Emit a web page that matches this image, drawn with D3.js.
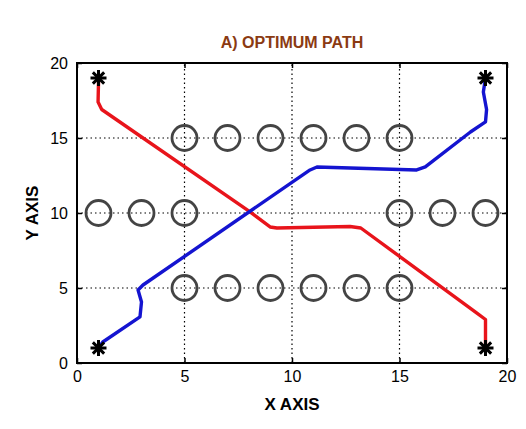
<!DOCTYPE html>
<html><head><meta charset="utf-8">
<script src="https://cdn.jsdelivr.net/npm/d3@7"></script>
<style>body{margin:0;background:#fff}</style></head>
<body><div id="chart"></div>
<script>
// Data
const xTicks = [0, 5, 10, 15, 20];
const yTicks = [0, 5, 10, 15, 20];
const obstacles = [
  [5,15],[7,15],[9,15],[11,15],[13,15],[15,15],
  [1,10],[3,10],[5,10],[15,10],[17,10],[19,10],
  [5,5],[7,5],[9,5],[11,5],[13,5],[15,5]
];
const stars = [[1,19],[19,19],[1,1],[19,1]];
const redPath = [[1,19],[1,18.7],[0.98,17.4],[1.15,16.9],[8.05,10.07],[8.98,9.07],[9.3,9.0],
  [12.7,9.1],[13.2,9.0],[18.6,3.33],[19,2.9],[19,1.6],[19,1]];
const bluePath = [[1,1],[1.2,1.4],[2.93,3.07],[3.0,4.07],[2.84,4.87],[3.07,5.2],[10.84,12.87],
  [11.16,13.07],[15.8,12.87],[16.2,13.07],[18.3,15.4],[19,16.07],[19.05,16.9],[18.9,18.07],[19,19]];

const W = 526, H = 429;
const m = {left: 77, right: 19, top: 63, bottom: 66};
const svg = d3.select("#chart").append("svg").attr("width", W).attr("height", H)
  .style("font-family", "Arial, 'Liberation Sans', sans-serif");
const x = d3.scaleLinear().domain([0, 20]).range([m.left, W - m.right]);
const y = d3.scaleLinear().domain([0, 20]).range([H - m.bottom, m.top]);

// grid
const grid = svg.append("g").attr("stroke", "#000").attr("stroke-width", 1.2).attr("stroke-dasharray", "1.5,3");
grid.selectAll("line.gx").data(xTicks.slice(1, -1)).join("line")
  .attr("x1", d => x(d)).attr("x2", d => x(d)).attr("y1", y(0)).attr("y2", y(20));
grid.selectAll("line.gy").data(yTicks.slice(1, -1)).join("line")
  .attr("y1", d => y(d)).attr("y2", d => y(d)).attr("x1", x(0)).attr("x2", x(20));

// axes (inward ticks)
const fmt = d3.format("d");
const ax = (g) => g.call(s => s.select(".domain").remove())
  .call(s => s.selectAll("text").attr("fill", "#000").style("font-size", "16px"))
  .call(s => s.selectAll("line").attr("stroke", "#000").attr("stroke-width", 1.5));
svg.append("g").attr("transform", `translate(0,${y(0)})`)
  .call(d3.axisBottom(x).tickValues(xTicks).tickFormat(fmt).tickSize(-5).tickPadding(8)).call(ax);
svg.append("g").attr("transform", `translate(0,${y(20)})`)
  .call(d3.axisTop(x).tickValues(xTicks).tickSize(-5).tickFormat("")).call(ax);
svg.append("g").attr("transform", `translate(${x(0)},0)`)
  .call(d3.axisLeft(y).tickValues(yTicks).tickFormat(fmt).tickSize(-5).tickPadding(9)).call(ax);
svg.append("g").attr("transform", `translate(${x(20)},0)`)
  .call(d3.axisRight(y).tickValues(yTicks).tickSize(-5).tickFormat("")).call(ax);

// obstacles
svg.append("g").selectAll("circle").data(obstacles).join("circle")
  .attr("cx", d => x(d[0])).attr("cy", d => y(d[1])).attr("r", 12.5)
  .attr("fill", "none").attr("stroke", "#444").attr("stroke-width", 2.8);

// paths
const lineP = d3.line().x(d => x(d[0])).y(d => y(d[1]));
svg.append("path").datum(redPath).attr("d", lineP).attr("fill", "none")
  .attr("stroke", "#e8141b").attr("stroke-width", 3.4).attr("stroke-linejoin", "round");
svg.append("path").datum(bluePath).attr("d", lineP).attr("fill", "none")
  .attr("stroke", "#1414d0").attr("stroke-width", 3.4).attr("stroke-linejoin", "round");

// stars
const star = svg.append("g").attr("stroke", "#000").attr("stroke-width", 3);
stars.forEach(([sx, sy]) => {
  const cx = x(sx), cy = y(sy), r = 8;
  [0, 45, 90, 135].forEach(a => {
    const t = a * Math.PI / 180;
    star.append("line").attr("x1", cx - r * Math.cos(t)).attr("y1", cy - r * Math.sin(t))
      .attr("x2", cx + r * Math.cos(t)).attr("y2", cy + r * Math.sin(t));
  });
});

// frame
svg.append("rect").attr("x", x(0)).attr("y", y(20)).attr("width", x(20) - x(0)).attr("height", y(0) - y(20))
  .attr("fill", "none").attr("stroke", "#000").attr("stroke-width", 2);

// labels
svg.append("text").attr("x", 292).attr("y", 48).attr("text-anchor", "middle")
  .attr("fill", "#8b3a12").style("font-size", "16px").style("font-weight", "bold").text("A) OPTIMUM PATH");
svg.append("text").attr("x", 292).attr("y", 410).attr("text-anchor", "middle")
  .style("font-size", "17px").style("font-weight", "bold").text("X AXIS");
svg.append("text").attr("transform", `translate(38,${y(10)}) rotate(-90)`).attr("text-anchor", "middle")
  .style("font-size", "17px").style("font-weight", "bold").text("Y AXIS");
</script></body></html>
